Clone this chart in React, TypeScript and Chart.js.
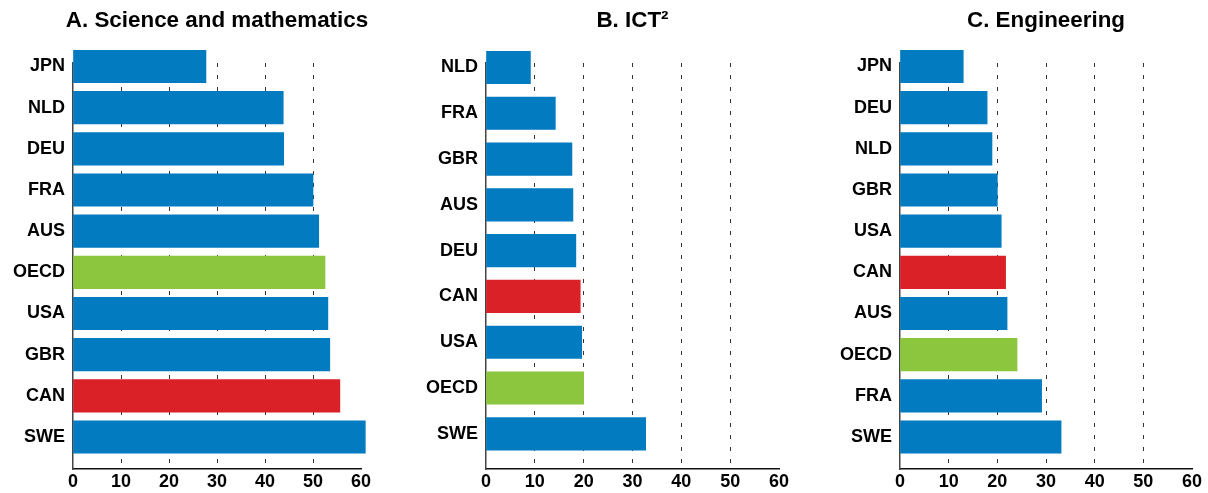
import React, { useEffect, useRef } from "react";
import { Chart, registerables } from "chart.js";

Chart.register(...registerables);

// ---- Data ----
const sciLabels = ["JPN", "NLD", "DEU", "FRA", "AUS", "OECD", "USA", "GBR", "CAN", "SWE"];
const sciValues = [27.7, 43.8, 43.9, 50.0, 51.2, 52.5, 53.1, 53.5, 55.6, 60.9];

const ictLabels = ["NLD", "FRA", "GBR", "AUS", "DEU", "CAN", "USA", "OECD", "SWE"];
const ictValues = [9.1, 14.2, 17.6, 17.8, 18.4, 19.3, 19.6, 20.0, 32.7];

const engLabels = ["JPN", "DEU", "NLD", "GBR", "USA", "CAN", "AUS", "OECD", "FRA", "SWE"];
const engValues = [13.0, 17.9, 18.9, 20.0, 20.8, 21.7, 22.0, 24.05, 29.1, 33.1];

const xTickValues = [0, 10, 20, 30, 40, 50, 60];

const titles = ["A. Science and mathematics", "B. ICT\u00B2", "C. Engineering"];

// ---- Styles ----
const BLUE = "#037BC1";
const RED = "#DA2128";
const GREEN = "#8CC63F";
const FONT = "'Liberation Sans', Arial, Helvetica, sans-serif";

const colorFor = (label: string) =>
  label === "CAN" ? RED : label === "OECD" ? GREEN : BLUE;

type PanelProps = {
  title: string;
  labels: string[];
  values: number[];
  plotLeft: number;
  plotWidth: number;
  firstCenter: number;
  lastCenter: number;
};

const HEIGHT = 493;
const AREA_TOP = 63;
const AREA_BOTTOM = 469;
const SIDE = 73;
const TITLE_SIZE = 22.4;

function Panel({ title, labels, values, plotLeft, plotWidth, firstCenter, lastCenter }: PanelProps) {
  const ref = useRef<HTMLCanvasElement | null>(null);
  const width = plotWidth + 2 * SIDE;
  const left = plotLeft - SIDE;

  useEffect(() => {
    if (!ref.current) return;
    const n = labels.length;
    const pitch = (lastCenter - firstCenter) / (n - 1);
    const yMin = (AREA_TOP - firstCenter) / pitch;
    const yMax = (AREA_BOTTOM - firstCenter) / pitch;
    const titleLine = TITLE_SIZE * 1.2;

    const chart = new Chart(ref.current, {
      type: "bar",
      data: {
        datasets: [
          {
            data: values.map((v, i) => ({ x: v, y: i })),
            backgroundColor: labels.map(colorFor),
            borderWidth: 0,
            barThickness: 32.5,
            clip: false as any,
            yAxisID: "y",
            xAxisID: "x",
          },
        ],
      },
      options: {
        indexAxis: "y",
        responsive: false,
        animation: false,
        layout: { padding: 0 },
        plugins: {
          legend: { display: false },
          tooltip: { enabled: false },
          title: {
            display: true,
            text: title,
            fullSize: true,
            color: "#000",
            font: { family: FONT, size: TITLE_SIZE, weight: "bold", lineHeight: 1.2 },
            padding: { top: 7, bottom: AREA_TOP - 7 - titleLine },
          },
        },
        scales: {
          x: {
            type: "linear",
            position: "bottom",
            min: 0,
            max: 60,
            offset: false,
            afterBuildTicks: (scale: any) => {
              scale.ticks = xTickValues.map((v) => ({ value: v }));
            },
            afterFit: (scale: any) => {
              scale.height = HEIGHT - AREA_BOTTOM;
            },
            ticks: {
              color: "#000",
              padding: 4,
              font: { family: FONT, size: 18, weight: "bold", lineHeight: 1 },
              maxRotation: 0,
              autoSkip: false,
            },
            grid: {
              drawTicks: false,
              offset: false,
              lineWidth: 1,
              color: (c: any) =>
                c.tick && (c.tick.value === 0 || c.tick.value === 60) ? "rgba(0,0,0,0)" : "#333",
            },
            border: { display: true, color: "#111", width: 1.5, dash: [4, 8] },
          },
          y: {
            type: "linear",
            position: "left",
            reverse: true,
            offset: false,
            min: yMin,
            max: yMax,
            afterBuildTicks: (scale: any) => {
              scale.ticks = labels.map((_, i) => ({ value: i }));
            },
            afterFit: (scale: any) => {
              scale.width = SIDE;
            },
            ticks: {
              color: "#000",
              padding: 8,
              autoSkip: false,
              font: { family: FONT, size: 18, weight: "bold" },
              callback: (v: any) => labels[v as number],
            },
            grid: { display: false, drawTicks: false, offset: false },
            border: { display: true, color: "#444", width: 1.5 },
          },
          yRight: {
            type: "linear",
            position: "right",
            display: true,
            afterFit: (scale: any) => {
              scale.width = SIDE;
            },
            ticks: { display: false },
            grid: { display: false, drawTicks: false },
            border: { display: false },
          },
        },
      } as any,
    });
    return () => chart.destroy();
  }, []);

  return (
    <canvas
      ref={ref}
      width={width}
      height={HEIGHT}
      style={{ position: "absolute", left, top: 0, width, height: HEIGHT }}
    />
  );
}

export default function App() {
  return (
    <div style={{ position: "absolute", left: 0, top: 0, width: 1208, height: HEIGHT, background: "#fff", overflow: "hidden" }}>
      <Panel title={titles[0]} labels={sciLabels} values={sciValues} plotLeft={73} plotWidth={288} firstCenter={66.5} lastCenter={437} />
      <Panel title={titles[1]} labels={ictLabels} values={ictValues} plotLeft={486} plotWidth={293} firstCenter={67.5} lastCenter={433.8} />
      <Panel title={titles[2]} labels={engLabels} values={engValues} plotLeft={900} plotWidth={292} firstCenter={66.5} lastCenter={437} />
    </div>
  );
}
